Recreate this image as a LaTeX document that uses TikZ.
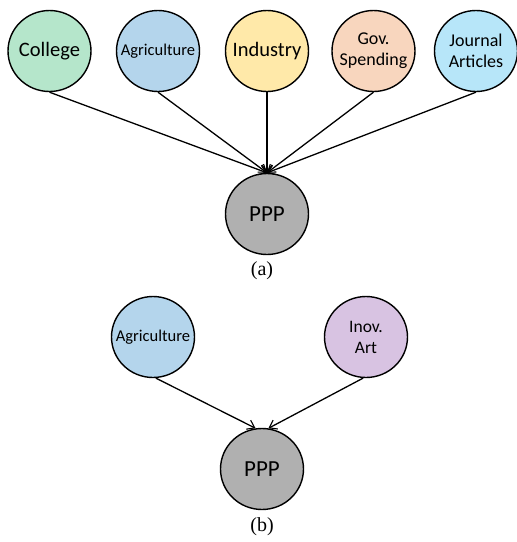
\documentclass[tikz,border=0pt]{standalone}
\usepackage{fontspec}
\setmainfont{Carlito}
\newfontfamily\capfont{Liberation Serif}
\usetikzlibrary{shapes.geometric,arrows.meta}
\definecolor{cgreen}{HTML}{B5E6CB}
\definecolor{cblue}{HTML}{B4D5EC}
\definecolor{cyellow}{HTML}{FFE9A9}
\definecolor{cpeach}{HTML}{F8D6BE}
\definecolor{ccyan}{HTML}{B7E6F9}
\definecolor{cviolet}{HTML}{D8C3E2}
\definecolor{cgray}{HTML}{B0B0B0}
\tikzset{
  var/.style={ellipse, draw=black, line width=1.4pt, inner sep=0pt,
    minimum width=83pt, minimum height=81pt},
  vtext/.style={align=center, inner sep=0pt},
  link/.style={line width=1.3pt, -{Straight Barb[length=7pt,width=10pt,line width=1.1pt]}},
  subcap/.style={font=\capfont\fontsize{20}{22}\selectfont}
}
\begin{document}
\begin{tikzpicture}[x=1pt,y=-1pt]
\useasboundingbox (0,0) rectangle (517,542);
% (a)
\node[var, fill=cgreen] (col) at (49.5,51) {};
\node[vtext, font=\fontsize{20.5}{22}\selectfont] (colt) at (col) {College};
\node[var, fill=cblue] (agr) at (158,51) {};
\node[vtext, font=\fontsize{16.5}{18}\selectfont] (agrt) at (agr) {Agriculture};
\node[var, fill=cyellow] (ind) at (267,51) {};
\node[vtext, font=\fontsize{20.5}{22}\selectfont] (indt) at (ind) {Industry};
\node[var, fill=cpeach] (gov) at (373.5,51) {};
\node[vtext, font=\fontsize{18}{21}\selectfont] (govt) at (gov) {Gov.\\Spending};
\node[var, fill=ccyan] (jou) at (476,51) {};
\node[vtext, font=\fontsize{18}{21}\selectfont] (jout) at (jou) {Journal\\Articles};
\node[var, fill=cgray] (pppa) at (267,214) {};
\node[vtext, font=\fontsize{23}{24}\selectfont] (pppat) at (pppa) {PPP};
\node[subcap] (capa) at (262,271) {(a)};
\draw[link] (col.south) -- (pppa.north);
\draw[link] (agr.south) -- (pppa.north);
\draw[link] (ind.south) -- (pppa.north);
\draw[link] (gov.south) -- (pppa.north);
\draw[link] (jou.south) -- (pppa.north);
% (b)
\node[var, fill=cblue] (agrb) at (153,337) {};
\node[vtext, font=\fontsize{16.5}{18}\selectfont] (agrbt) at (agrb) {Agriculture};
\node[var, fill=cviolet] (inov) at (366,337) {};
\node[vtext, font=\fontsize{17.5}{21}\selectfont] (inovt) at (inov) {Inov.\\Art};
\node[var, fill=cgray] (pppb) at (262,469) {};
\node[vtext, font=\fontsize{23}{24}\selectfont] (pppbt) at (pppb) {PPP};
\node[subcap] (capb) at (262,527) {(b)};
\draw[link] (agrb.-86) -- (pppb.99);
\draw[link] (inov.-94) -- (pppb.81);
\end{tikzpicture}
\end{document}
